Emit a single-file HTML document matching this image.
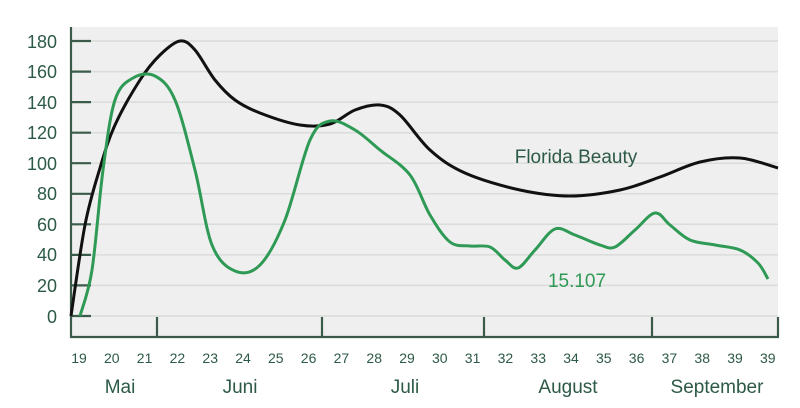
<!DOCTYPE html>
<html><head><meta charset="utf-8"><style>
html,body{margin:0;padding:0;background:#fff;}
svg{display:block;font-family:"Liberation Sans",sans-serif;}
</style></head><body>
<svg id="s" width="800" height="408" viewBox="0 0 800 408" xmlns="http://www.w3.org/2000/svg">
<rect x="71" y="27" width="707" height="310" fill="#efefef"/>
<g stroke="#d9dcd9" stroke-width="1.5">
<line x1="71" x2="778" y1="41" y2="41"/><line x1="71" x2="778" y1="71.6" y2="71.6"/>
<line x1="71" x2="778" y1="102.1" y2="102.1"/><line x1="71" x2="778" y1="132.7" y2="132.7"/>
<line x1="71" x2="778" y1="163.2" y2="163.2"/><line x1="71" x2="778" y1="193.8" y2="193.8"/>
<line x1="71" x2="778" y1="224.3" y2="224.3"/><line x1="71" x2="778" y1="254.9" y2="254.9"/>
<line x1="71" x2="778" y1="285.4" y2="285.4"/><line x1="71" x2="778" y1="316" y2="316"/>
</g>
<g stroke="#3a5a4a" stroke-width="2.2" fill="none">
<line x1="71" y1="27" x2="71" y2="338"/><line x1="70" y1="337" x2="779" y2="337"/>
<line x1="157" y1="317" x2="157" y2="337"/><line x1="322" y1="317" x2="322" y2="337"/>
<line x1="484" y1="317" x2="484" y2="337"/><line x1="652" y1="317" x2="652" y2="337"/>
<line x1="778" y1="317" x2="778" y2="337"/>
<path d="M71 41h20M71 71.6h20M71 102.1h20M71 132.7h20M71 163.2h20M71 193.8h20M71 224.3h20M71 254.9h20M71 285.4h20M71 316h20"/>
</g>
<g fill="#2d5a46" font-size="18" text-anchor="end">
<text x="57" y="48">180</text><text x="57" y="78">160</text><text x="57" y="109">140</text>
<text x="57" y="139">120</text><text x="57" y="170">100</text><text x="57" y="200">80</text>
<text x="57" y="231">60</text><text x="57" y="261">40</text><text x="57" y="292">20</text>
<text x="57" y="323">0</text>
</g>
<g id="wk" fill="#2d5a46" font-size="14" text-anchor="middle"></g>
<g fill="#2d5a46" font-size="19" text-anchor="middle">
<text x="120" y="393">Mai</text><text x="240" y="393">Juni</text><text x="405" y="393">Juli</text>
<text x="568" y="393">August</text><text x="717" y="393">September</text>
<text x="576" y="163">Florida Beauty</text>
</g>
<text x="577" y="287" fill="#2f9a55" font-size="19" text-anchor="middle">15.107</text>
<path id="b" fill="none" stroke="#111" stroke-width="3"/>
<path id="g" fill="none" stroke="#2f9a55" stroke-width="3"/>
</svg>
<script>
var wk=document.getElementById('wk'),labs=[];
for(var i=19;i<=39;i++)labs.push(i);labs.push(39);
labs.forEach(function(l,i){var t=document.createElementNS('http://www.w3.org/2000/svg','text');
t.setAttribute('x',(79+i*32.8).toFixed(1));t.setAttribute('y','363');t.textContent=l;wk.appendChild(t);});
function cr(p){var d='M'+p[0][0]+' '+p[0][1];for(var i=0;i<p.length-1;i++){var p0=p[i-1]||p[i],p1=p[i],p2=p[i+1],p3=p[i+2]||p2;
d+=' C'+(p1[0]+(p2[0]-p0[0])/6).toFixed(1)+' '+(p1[1]+(p2[1]-p0[1])/6).toFixed(1)+' '+(p2[0]-(p3[0]-p1[0])/6).toFixed(1)+' '+(p2[1]-(p3[1]-p1[1])/6).toFixed(1)+' '+p2[0]+' '+p2[1];}return d;}
document.getElementById('b').setAttribute('d',cr([[71,316],[85,225],[100,168],[115,125],[140,80],[160,55],[180,41],[195,50],[215,80],[235,100],[260,113],[300,125],[330,124],[355,110],[380,105],[400,115],[430,150],[465,173],[520,190],[570,196],[620,190],[660,177],[700,162],[740,158],[778,168]]));
document.getElementById('g').setAttribute('d',cr([[80,316],[92,270],[103,170],[115,100],[133,78],[155,76],[175,100],[195,170],[212,245],[235,271],[260,265],[285,220],[310,140],[330,121],[355,130],[380,150],[410,175],[430,215],[450,242],[470,246],[490,247],[505,260],[518,268],[535,250],[555,229],[575,235],[600,245],[615,247],[635,230],[655,213],[670,225],[690,240],[715,245],[740,250],[758,263],[768,279]]));
</script>
</body></html>
